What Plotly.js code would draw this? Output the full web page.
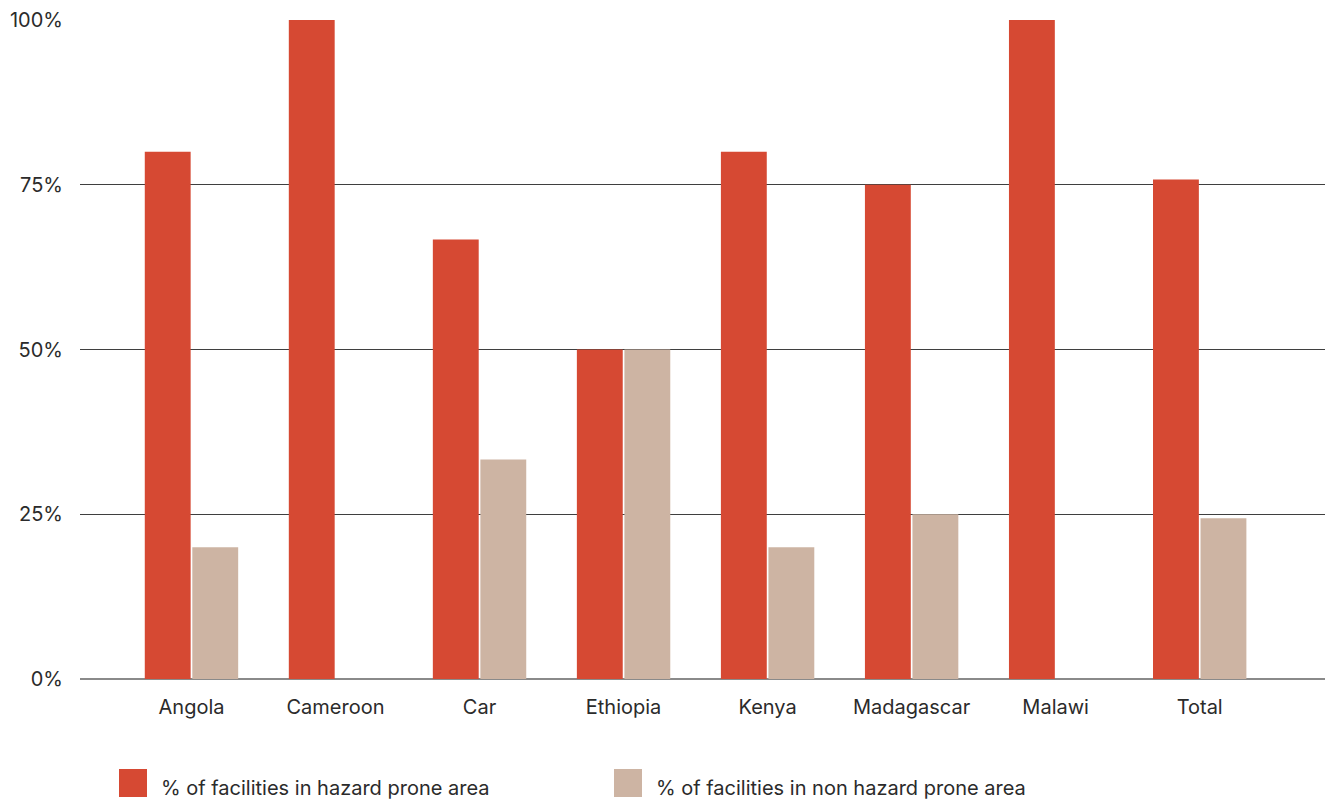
<!DOCTYPE html>
<html>
<head>
<meta charset="utf-8">
<script src="https://cdn.plot.ly/plotly-3.0.1.min.js"></script>
<style>
  html, body { margin: 0; padding: 0; background: #fff; }
  #chart { width: 1333px; height: 803px; }
</style>
</head>
<body>
<div id="chart"></div>
<script>
// Share of facilities by hazard exposure, per country
const countries = ["Angola", "Cameroon", "Car", "Ethiopia", "Kenya", "Madagascar", "Malawi", "Total"];
const hazardProne = [80, 100, 66.7, 50, 80, 75, 100, 75.8];
const nonHazardProne = [20, 0, 33.3, 50, 20, 25, 0, 24.4];
const seriesNames = ["% of facilities in hazard prone area", "% of facilities in non hazard prone area"];
const yTicks = [0, 25, 50, 75, 100];

const RED = "#D64933";
const BEIGE = "#CDB4A3";
const FONT = "Inter, 'Noto Sans', sans-serif";
const TEXT = "#2b2b2b";

const W = 1333, H = 803;
const M = { l: 80, r: 8, t: 20, b: 124 };
const plotW = W - M.l - M.r, plotH = H - M.t - M.b;

const traces = [
  { type: "bar", name: seriesNames[0], x: countries, y: hazardProne, marker: { color: RED }, showlegend: false, hoverinfo: "x+y" },
  { type: "bar", name: seriesNames[1], x: countries, y: nonHazardProne, marker: { color: BEIGE }, showlegend: false, hoverinfo: "x+y" }
];

// Custom legend below the plot: large square swatches with labels
const legendItems = [
  { color: RED, label: seriesNames[0], sx: 119 },
  { color: BEIGE, label: seriesNames[1], sx: 614 }
];
const toPx = px => (px - M.l) / plotW;
const toPy = py => (H - M.b - py) / plotH;
const shapes = [];
const annotations = [];
legendItems.forEach(it => {
  shapes.push({
    type: "rect", xref: "paper", yref: "paper",
    x0: toPx(it.sx), x1: toPx(it.sx + 28), y0: toPy(797), y1: toPy(769),
    fillcolor: it.color, line: { width: 0 }
  });
  annotations.push({
    xref: "paper", yref: "paper", x: toPx(it.sx + 40), y: toPy(788),
    xanchor: "left", yanchor: "middle", showarrow: false,
    text: it.label, font: { family: FONT, size: 20, color: TEXT }
  });
});

const layout = {
  width: W, height: H,
  margin: M,
  paper_bgcolor: "#fff", plot_bgcolor: "#fff",
  barmode: "group", bargap: 0.34, bargroupgap: 0.035,
  font: { family: FONT, size: 20, color: TEXT },
  xaxis: {
    type: "category", range: [-0.774, 7.87],
    showgrid: false, zeroline: false, showline: false,
    ticks: "", ticklabelstandoff: 14,
    tickfont: { family: FONT, size: 20, color: TEXT }
  },
  yaxis: {
    range: [0, 100], tickvals: yTicks, ticktext: yTicks.map(v => v + "%"),
    showgrid: true, gridcolor: "#3f3f3f", gridwidth: 1,
    zeroline: true, zerolinecolor: "#8a8a8a", zerolinewidth: 2,
    showline: false, ticks: "", ticklabelstandoff: 16,
    tickfont: { family: FONT, size: 20, color: TEXT }
  },
  shapes: shapes,
  annotations: annotations
};

Plotly.newPlot("chart", traces, layout, { displayModeBar: false, staticPlot: true });
</script>
</body>
</html>
